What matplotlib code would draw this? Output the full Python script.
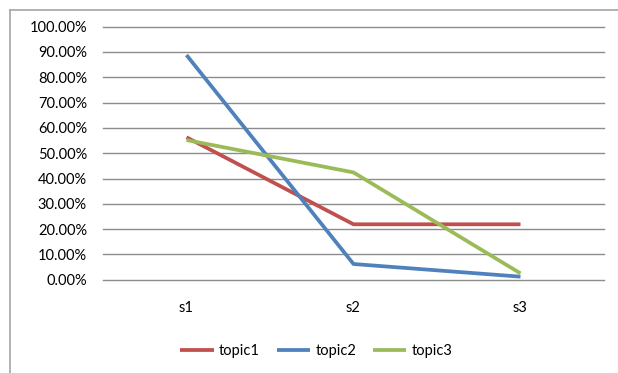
import matplotlib.pyplot as plt
from matplotlib.lines import Line2D
from matplotlib.ticker import PercentFormatter

plt.rcParams['font.family'] = ['Lato', 'DejaVu Sans']

categories = ["s1", "s2", "s3"]
series_names = ["topic1", "topic2", "topic3"]
topic1 = [0.563, 0.219, 0.219]
topic2 = [0.888, 0.062, 0.012]
topic3 = [0.552, 0.424, 0.025]
colors = ["#C0504D", "#4F81BD", "#9BBB59"]

fig = plt.figure(figsize=(6.18, 3.73), dpi=100)
ax = fig.add_axes([103 / 618, 1 - 279.7 / 373, 501 / 618, 253 / 373])

x = list(range(len(categories)))
for name, vals, c in zip(series_names, [topic1, topic2, topic3], colors):
    ax.plot(x, vals, color=c, linewidth=2.7, label=name, solid_capstyle='butt', zorder=3)

ax.set_xlim(-0.5, 2.5)
ax.set_ylim(0, 1)
ax.set_yticks([i / 10 for i in range(11)])
ax.yaxis.set_major_formatter(PercentFormatter(1.0, decimals=2))
ax.set_xticks(x)
ax.set_xticklabels(categories)
ax.grid(axis='y', color='#8C8C8C', linewidth=1.0)
for gl in ax.get_ygridlines():
    gl.set_clip_on(False)
ax.set_axisbelow(True)
for s in ax.spines.values():
    s.set_visible(False)
ax.tick_params(axis='both', length=0, labelsize=10.5, colors='black')
ax.tick_params(axis='x', pad=15.5)
ax.tick_params(axis='y', pad=11.5)

# chart frame (top and left edges visible)
fig.add_artist(Line2D([10 / 618, 10 / 618], [0, 1 - 9.5 / 373], color='#A6A6A6', linewidth=1.2, transform=fig.transFigure))
fig.add_artist(Line2D([10 / 618, 1], [1 - 9.5 / 373, 1 - 9.5 / 373], color='#A6A6A6', linewidth=1.2, transform=fig.transFigure))

fig.legend(loc='center', bbox_to_anchor=(0.512, 1 - 351 / 373), ncol=3, frameon=False,
           fontsize=10.5, handlelength=2.3, handletextpad=0.35, columnspacing=1.15)

fig.savefig("out.png", dpi=100)
